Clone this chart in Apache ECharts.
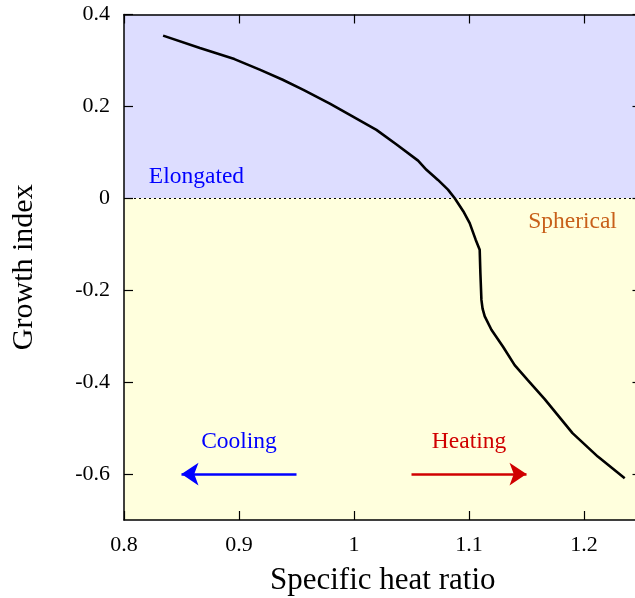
<!DOCTYPE html>
<html>
<head>
<meta charset="utf-8">
<script src="https://cdn.jsdelivr.net/npm/echarts@6/dist/echarts.min.js"></script>
<style>html,body{margin:0;padding:0;background:#fff}#c{width:635px;height:598px}</style>
</head>
<body>
<div id="c"></div>
<script>
const curveX = [0.834, 0.866, 0.896, 0.918, 0.938, 0.956, 0.979, 0.996, 1.0195, 1.037, 1.0557, 1.063, 1.073, 1.0817, 1.0876, 1.095, 1.1006, 1.1058, 1.1093, 1.1099, 1.1108, 1.1118, 1.1137, 1.1195, 1.1296, 1.1397, 1.1513, 1.1658, 1.190, 1.212, 1.2354];
const curveY = [0.354, 0.327, 0.303, 0.280, 0.258, 0.236, 0.206, 0.182, 0.149, 0.117, 0.082, 0.062, 0.040, 0.019, 0.0, -0.028, -0.054, -0.090, -0.112, -0.163, -0.221, -0.240, -0.257, -0.286, -0.323, -0.363, -0.396, -0.437, -0.511, -0.562, -0.609];
const xTicks = [0.8, 0.9, 1.0, 1.1, 1.2];
const yTicks = [0.4, 0.2, 0, -0.2, -0.4, -0.6];
const regionLabels = [
  {name: 'Elongated', x: 0.863, y: 0.047, color: '#0000ff'},
  {name: 'Spherical', x: 1.190, y: -0.051, color: '#c8601a'},
  {name: 'Cooling', x: 0.900, y: -0.530, color: '#0000ff'},
  {name: 'Heating', x: 1.100, y: -0.530, color: '#d00000'}
];
const arrows = [
  {from: [0.95, -0.6], to: [0.85, -0.6], color: '#0000ff'},
  {from: [1.05, -0.6], to: [1.15, -0.6], color: '#d00000'}
];
const FONT = 'Liberation Serif';
const chart = echarts.init(document.getElementById('c'));
const tickStyle = {color: '#000', width: 1.2};
const baseX = {
  type: 'value', min: 0.8, max: 1.25, z: 20,
  axisLine: {show: true, onZero: false, lineStyle: {color: '#000', width: 1.5}},
  axisTick: {show: true, inside: true, length: 9, customValues: xTicks, lineStyle: tickStyle},
  splitLine: {show: false}
};
const baseY = {
  type: 'value', min: -0.7, max: 0.4, z: 20,
  axisLine: {show: true, onZero: false, lineStyle: {color: '#000', width: 1.5}},
  axisTick: {show: true, inside: true, length: 9, customValues: yTicks, lineStyle: tickStyle},
  splitLine: {show: false}
};
function fmt(v){
  const r = Math.round(v*100)/100;
  return r === 0 ? '0' : String(r);
}
chart.setOption({
  animation: false,
  grid: {left: 124, top: 14.5, width: 517.5, height: 505.5, show: false, containLabel: false, outerBoundsMode: 'none'},
  xAxis: [
    Object.assign({}, baseX, {
      position: 'bottom',
      name: 'Specific heat ratio', nameLocation: 'middle', nameGap: 45,
      nameTextStyle: {fontFamily: FONT, fontSize: 31, color: '#000'},
      axisLabel: {show: true, customValues: xTicks, formatter: fmt, margin: 14, fontFamily: FONT, fontSize: 22, color: '#000'}
    }),
    Object.assign({}, baseX, {position: 'top', axisLabel: {show: false}})
  ],
  yAxis: [
    Object.assign({}, baseY, {
      position: 'left',
      name: 'Growth index', nameLocation: 'middle', nameGap: 85,
      nameTextStyle: {fontFamily: FONT, fontSize: 30, color: '#000'},
      axisLabel: {show: true, customValues: yTicks, formatter: fmt, margin: 14, fontFamily: FONT, fontSize: 22, color: '#000'}
    }),
    Object.assign({}, baseY, {position: 'right', axisLabel: {show: false}})
  ],
  series: [
    {
      type: 'line', xAxisIndex: 0, yAxisIndex: 0,
      data: curveX.map((x, i) => [x, curveY[i]]),
      showSymbol: false, symbol: 'none',
      lineStyle: {color: '#000', width: 2.6, opacity: 1},
      z: 5,
      markArea: {
        silent: true,
        data: [
          [{coord: [0.8, 0], itemStyle: {color: '#ddddff', opacity: 1}}, {coord: [1.25, 0.4]}],
          [{coord: [0.8, -0.7], itemStyle: {color: '#ffffdd', opacity: 1}}, {coord: [1.25, 0]}]
        ]
      },
      markLine: {
        silent: true, symbol: 'none',
        label: {show: false},
        lineStyle: {color: '#000', type: [2, 3], width: 1, opacity: 1},
        data: [{yAxis: 0}]
      }
    },
    {
      type: 'lines', coordinateSystem: 'cartesian2d', xAxisIndex: 0, yAxisIndex: 0,
      symbol: ['none', 'arrow'], symbolSize: [0, 17],
      data: arrows.map(a => ({coords: [a.from, a.to], lineStyle: {color: a.color, width: 2.5, opacity: 1}})),
      z: 6
    },
    {
      type: 'scatter', xAxisIndex: 0, yAxisIndex: 0, symbolSize: 0,
      itemStyle: {opacity: 1},
      data: regionLabels.map(l => ({
        value: [l.x, l.y], name: l.name,
        label: {show: true, position: 'inside', formatter: l.name, color: l.color, opacity: 1, fontFamily: FONT, fontSize: 23.5}
      })),
      z: 7
    }
  ]
});
</script>
</body>
</html>
